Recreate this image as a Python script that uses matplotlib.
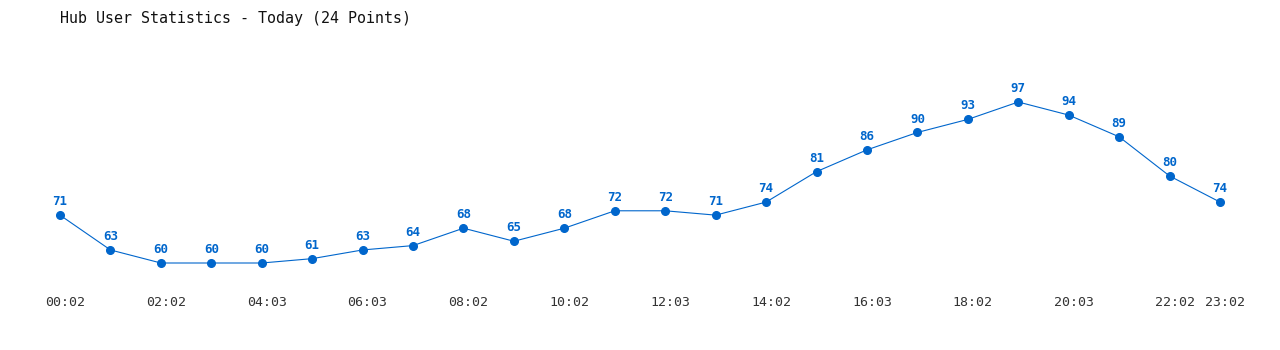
import matplotlib.pyplot as plt
from matplotlib.transforms import ScaledTranslation

# hourly samples for today
times = ["00:02", "01:02", "02:02", "03:03", "04:03", "05:03", "06:03", "07:02",
         "08:02", "09:02", "10:02", "11:03", "12:03", "13:02", "14:02", "15:03",
         "16:03", "17:02", "18:02", "19:03", "20:03", "21:02", "22:02", "23:02"]
users = [71, 63, 60, 60, 60, 61, 63, 64, 68, 65, 68, 72,
         72, 71, 74, 81, 86, 90, 93, 97, 94, 89, 80, 74]

blue = "#0066cc"
mono = "DejaVu Sans Mono"

fig = plt.figure(figsize=(12.8, 3.5), dpi=100)
ax = fig.add_axes([60 / 1280, 87 / 350, 1160 / 1280, 161 / 350])

x = list(range(len(users)))
ax.plot(x, users, color=blue, lw=0.8, marker="o", ms=5.5, clip_on=False)
for xi, v in zip(x, users):
    ax.annotate(str(v), (xi, v), xytext=(0, 5), textcoords="offset points",
                ha="center", va="bottom", color=blue, fontsize=9,
                fontweight="bold", family=mono)

ax.set_xlim(0, len(users) - 1)
ax.set_ylim(min(users), max(users))

# every second label plus the last one
tick_idx = list(range(0, len(times), 2)) + [len(times) - 1]
ax.set_xticks(tick_idx)
ax.set_xticklabels([times[i] for i in tick_idx], family=mono, fontsize=9.5,
                   color="#333333")
ax.tick_params(axis="x", length=0, pad=24)
shift = ScaledTranslation(5 / 100, 0, fig.dpi_scale_trans)
for lbl in ax.get_xticklabels():
    lbl.set_transform(lbl.get_transform() + shift)
ax.set_yticks([])
for s in ax.spines.values():
    s.set_visible(False)

fig.text(60 / 1280, 1 - 18 / 350, "Hub User Statistics - Today (24 Points)",
         family=mono, fontsize=10.8, va="center", ha="left", color="#111111")

fig.savefig("out.png", dpi=100)
